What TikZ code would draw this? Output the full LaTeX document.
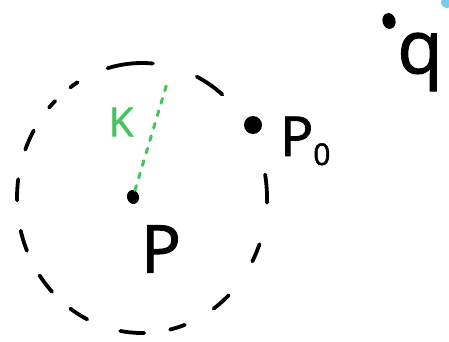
\documentclass[tikz,border=0pt]{standalone}
\usepackage{fontspec}
\setmainfont{Open Sans}
\newfontfamily\hand[FakeBold=1.6]{Open Sans}
\usetikzlibrary{shapes.geometric}
\definecolor{kgreen}{RGB}{70,195,95}
\definecolor{lblue}{RGB}{120,205,235}
\tikzset{
  rim/.style={line width=3.8pt, line cap=round},
  dotpt/.style={fill=black, draw=none, inner sep=0pt},
  lab/.style={inner sep=0pt, text=black},
  radius line/.style={kgreen, line width=3pt, line cap=round, dash pattern=on 5pt off 8pt}
}
\begin{document}
\begin{tikzpicture}[x=1pt,y=-1pt]
\useasboundingbox (0,0) rectangle (449,342);
% light blue blob at corner
\begin{scope}
\clip (0,0) rectangle (449,342);
\fill[lblue] (447,2) circle[radius=6];
\end{scope}
% dashed circle, hand drawn dashes
\foreach \a/\b in {85/106, 50/64, 121/125, 134/138, 150/159, 172/181, 194/203, 215/224, 235/244, 260/271, 283/290, 305/314, 332/340, -2/10}{
  \draw[rim] plot[domain=\a:\b, samples=12, smooth] ({142+125*cos(\x)},{198-135*sin(\x)});
}
% points
\node[dotpt, ellipse, minimum width=12pt, minimum height=14pt, rotate=15] (p) at (133,197) {};
\node[dotpt, circle, minimum size=18pt] (p0) at (253,125) {};
\node[dotpt, ellipse, minimum width=13pt, minimum height=16pt, rotate=15] (q) at (389,21) {};
\coordinate (rimpt) at (168,80);
% radius
\draw[radius line] (p) -- (rimpt);
% labels
\node[lab, text=kgreen, font=\hand\fontsize{40}{40}\selectfont] (k) at (121,122) {K};
\node[lab, font=\hand\fontsize{66}{66}\selectfont] (plab) at (161,249) {P};
\node[lab, font=\hand\fontsize{55}{55}\selectfont, anchor=west] (p0lab) at (280,141) {P\raisebox{-9pt}{\fontsize{30}{30}\selectfont 0}};
\node[lab, font=\hand\fontsize{74}{74}\selectfont] (qlab) at (420,62) {q};
\end{tikzpicture}
\end{document}
